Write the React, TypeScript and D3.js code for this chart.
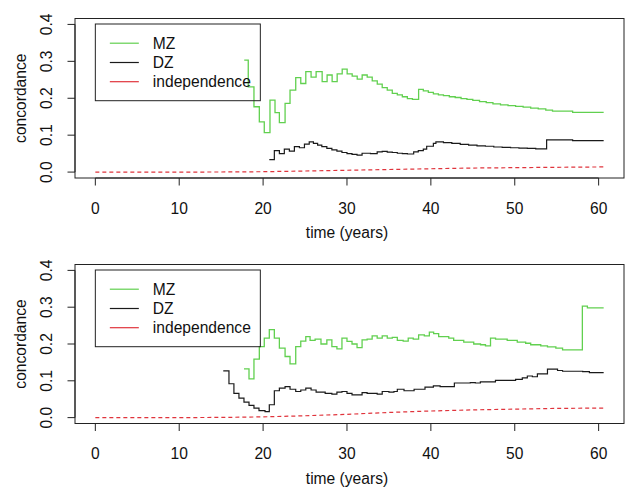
import React from 'react';
import * as d3 from 'd3';

// step curves: value holds from t[i] until t[i+1]; the last pair closes the curve
const topMZTime = [17.75, 18.23, 18.91, 19.55, 20.14, 20.82, 21.42, 21.94, 22.62, 23.21, 23.89, 24.49, 25.09, 25.72, 26.32, 27.04, 27.63, 28.23, 28.83, 29.43, 30.02, 30.62, 31.22, 31.81, 32.41, 33.01, 33.61, 34.2, 34.8, 35.4, 36.0, 36.6, 37.2, 37.8, 38.54, 39.1, 39.7, 40.3, 40.9, 41.5, 42.2, 42.9, 43.6, 44.3, 45.0, 45.8, 46.6, 47.4, 48.3, 49.2, 50.1, 51.0, 51.9, 52.8, 53.7, 54.5, 56.9, 60.6];
const topMZValue = [0.303, 0.231, 0.177, 0.136, 0.107, 0.195, 0.161, 0.134, 0.186, 0.222, 0.256, 0.240, 0.272, 0.257, 0.272, 0.245, 0.263, 0.245, 0.266, 0.279, 0.266, 0.260, 0.252, 0.263, 0.257, 0.247, 0.238, 0.229, 0.222, 0.213, 0.209, 0.204, 0.199, 0.197, 0.224, 0.220, 0.216, 0.212, 0.209, 0.207, 0.204, 0.202, 0.199, 0.197, 0.194, 0.191, 0.188, 0.185, 0.182, 0.180, 0.178, 0.176, 0.173, 0.171, 0.168, 0.165, 0.162, 0.162];

const topDZTime = [20.74, 21.34, 21.94, 22.53, 23.13, 23.73, 24.33, 24.93, 25.5, 26.0, 26.5, 27.0, 27.6, 28.2, 28.8, 29.4, 30.0, 30.6, 31.2, 31.8, 32.8, 33.6, 34.2, 34.8, 35.4, 36.0, 36.6, 37.2, 37.95, 38.5, 39.1, 39.5, 40.3, 40.6, 41.5, 42.5, 43.5, 44.5, 45.5, 46.5, 47.5, 48.5, 49.5, 50.5, 51.5, 52.5, 53.8, 56.9, 60.6];
const topDZValue = [0.034, 0.058, 0.050, 0.062, 0.057, 0.069, 0.066, 0.076, 0.082, 0.078, 0.073, 0.069, 0.064, 0.060, 0.057, 0.053, 0.050, 0.048, 0.046, 0.051, 0.050, 0.055, 0.056, 0.054, 0.053, 0.051, 0.050, 0.049, 0.055, 0.058, 0.062, 0.070, 0.078, 0.082, 0.080, 0.078, 0.075, 0.073, 0.071, 0.070, 0.068, 0.067, 0.066, 0.065, 0.064, 0.063, 0.087, 0.085, 0.085];

const topIndTime = [0, 10, 15, 20, 25, 30, 35, 40, 45, 50, 55, 60.6];
const topIndValue = [0, 0, 0.0003, 0.001, 0.003, 0.005, 0.007, 0.009, 0.011, 0.012, 0.013, 0.014];

const botMZTime = [17.72, 18.32, 18.91, 19.55, 20.14, 20.74, 21.34, 21.94, 22.62, 23.21, 23.89, 24.49, 25.09, 25.6, 26.2, 26.9, 27.6, 28.2, 28.8, 29.4, 30.0, 30.6, 31.2, 31.8, 32.4, 33.0, 33.6, 34.2, 34.8, 35.4, 36.0, 36.7, 37.3, 37.9, 38.54, 39.22, 39.82, 40.33, 40.93, 42.13, 42.72, 43.92, 45.11, 45.92, 46.51, 47.11, 47.71, 49.1, 50.3, 51.3, 51.9, 53.1, 53.9, 54.9, 55.7, 58.06, 58.66, 60.6];
const botMZValue = [0.1325, 0.105, 0.159, 0.193, 0.216, 0.239, 0.216, 0.189, 0.166, 0.146, 0.193, 0.208, 0.220, 0.210, 0.213, 0.200, 0.211, 0.193, 0.187, 0.216, 0.207, 0.200, 0.190, 0.211, 0.213, 0.222, 0.216, 0.222, 0.216, 0.218, 0.210, 0.208, 0.216, 0.213, 0.225, 0.222, 0.232, 0.228, 0.220, 0.216, 0.210, 0.205, 0.200, 0.198, 0.195, 0.216, 0.213, 0.210, 0.205, 0.202, 0.198, 0.195, 0.192, 0.189, 0.184, 0.303, 0.298, 0.298];

const botDZTime = [15.25, 15.93, 16.52, 17.12, 17.72, 18.32, 18.91, 19.51, 20.23, 20.74, 21.34, 21.94, 22.62, 23.21, 23.89, 24.49, 25.09, 25.72, 26.32, 27.4, 28.2, 28.8, 29.4, 30.0, 30.6, 31.8, 32.4, 33.6, 34.2, 35.0, 35.6, 36.0, 36.8, 38.0, 39.3, 40.3, 41.1, 42.8, 44.7, 45.3, 45.9, 47.7, 49.0, 50.1, 50.9, 51.5, 52.1, 52.7, 53.9, 55.1, 55.7, 58.1, 58.9, 60.6];
const botDZValue = [0.127, 0.092, 0.066, 0.053, 0.042, 0.033, 0.026, 0.019, 0.016, 0.035, 0.073, 0.080, 0.084, 0.077, 0.071, 0.075, 0.080, 0.075, 0.069, 0.066, 0.064, 0.069, 0.071, 0.066, 0.062, 0.068, 0.066, 0.064, 0.071, 0.069, 0.071, 0.077, 0.073, 0.077, 0.083, 0.086, 0.084, 0.094, 0.095, 0.094, 0.097, 0.101, 0.101, 0.104, 0.108, 0.113, 0.111, 0.119, 0.132, 0.128, 0.126, 0.125, 0.122, 0.122];

const botIndTime = [0, 10, 15, 20, 25, 30, 35, 40, 45, 50, 55, 60.6];
const botIndValue = [0, 0, 0.0005, 0.002, 0.005, 0.009, 0.014, 0.018, 0.021, 0.023, 0.025, 0.026];

const xTicks = [0, 10, 20, 30, 40, 50, 60];
const yTicks = [0, 0.1, 0.2, 0.3, 0.4];
const legendLabels = ['MZ', 'DZ', 'independence'];

const GREEN = '#61D04F';
const BLACK = '#1a1a1a';
const RED = '#E0343C';
const FONT = '"Liberation Sans", Arial, Helvetica, sans-serif';

const zip = (t: number[], v: number[]) => t.map((d, i) => [d, v[i]] as [number, number]);

interface PanelProps {
  top: number;
  bottom: number;
  mz: [number, number][];
  dz: [number, number][];
  ind: [number, number][];
}

const Panel: React.FC<PanelProps> = ({ top, bottom, mz, dz, ind }) => {
  const left = 75;
  const right = 624;
  const x = d3.scaleLinear().domain([-2.424, 63.024]).range([left, right]);
  const y = d3.scaleLinear().domain([-0.016, 0.416]).range([bottom, top]);

  const step = d3.line<[number, number]>()
    .x(d => x(d[0]))
    .y(d => y(d[1]))
    .curve(d3.curveStepAfter);
  const smooth = d3.line<[number, number]>()
    .x(d => x(d[0]))
    .y(d => y(d[1]));

  const midY = (top + bottom) / 2;
  const legX = x(0);
  const legTop = top + 5.5;
  const rows = [19.2, 38.5, 57.7].map(r => legTop + r);
  const legendColors = [GREEN, BLACK, RED];

  return (
    <g>
      <rect x={left} y={top} width={right - left} height={bottom - top}
        fill="none" stroke="#222" strokeWidth={1} />

      {/* y axis */}
      <line x1={left} x2={left} y1={y(0)} y2={y(0.4)} stroke="#222" />
      {yTicks.map(t => (
        <g key={t}>
          <line x1={left - 7.5} x2={left} y1={y(t)} y2={y(t)} stroke="#222" />
          <text transform={`translate(52,${y(t)}) rotate(-90)`} textAnchor="middle"
            fontSize={15.6} fill="#111">{t.toFixed(1)}</text>
        </g>
      ))}
      <text transform={`translate(25.5,${midY}) rotate(-90)`} textAnchor="middle"
        fontSize={15.6} fill="#111">concordance</text>

      {/* x axis */}
      <line x1={x(0)} x2={x(60)} y1={bottom} y2={bottom} stroke="#222" />
      {xTicks.map(t => (
        <g key={t}>
          <line x1={x(t)} x2={x(t)} y1={bottom} y2={bottom + 7.5} stroke="#222" />
          <text x={x(t)} y={bottom + 35.5} textAnchor="middle" fontSize={15.6} fill="#111">{t}</text>
        </g>
      ))}
      <text x={x(30)} y={bottom + 60} textAnchor="middle" fontSize={15.6} fill="#111">time (years)</text>

      {/* curves */}
      <path d={smooth(ind) ?? ''} fill="none" stroke={RED} strokeWidth={1.2} strokeDasharray="4,3" />
      <path d={step(dz) ?? ''} fill="none" stroke={BLACK} strokeWidth={1.2} />
      <path d={step(mz) ?? ''} fill="none" stroke={GREEN} strokeWidth={1.3} />

      {/* legend */}
      <rect x={legX} y={legTop} width={165} height={76.7} fill="none" stroke="#222" />
      {legendLabels.map((label, i) => (
        <g key={label}>
          <line x1={legX + 14.5} x2={legX + 43.5} y1={rows[i]} y2={rows[i]}
            stroke={legendColors[i]} strokeWidth={1.2} />
          <text x={legX + 57.5} y={rows[i] + 5.6} fontSize={15.6} fill="#111">{label}</text>
        </g>
      ))}
    </g>
  );
};

const App: React.FC = () => {
  return (
    <svg width={626} height={487} style={{ position: 'absolute', left: 0, top: 0, background: 'white' }}
      fontFamily={FONT}>
      <Panel top={18.5} bottom={178}
        mz={zip(topMZTime, topMZValue)}
        dz={zip(topDZTime, topDZValue)}
        ind={zip(topIndTime, topIndValue)} />
      <Panel top={264.5} bottom={423.5}
        mz={zip(botMZTime, botMZValue)}
        dz={zip(botDZTime, botDZValue)}
        ind={zip(botIndTime, botIndValue)} />
    </svg>
  );
};

export default App;
